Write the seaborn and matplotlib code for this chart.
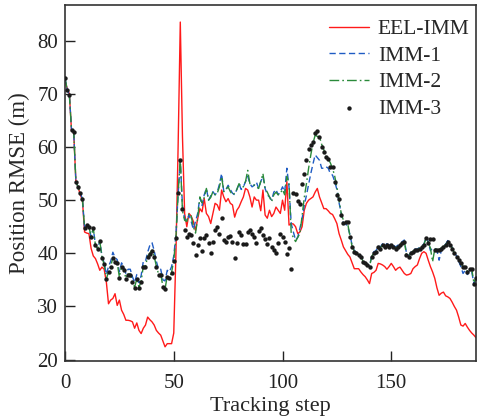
import numpy as np
import matplotlib
matplotlib.use("Agg")
import matplotlib.pyplot as plt
import seaborn as sns

# RMSE values, one per tracking step (0..189)
eel_imm = [
    72.5, 71.0, 70.0, 63.0, 62.8, 53.5, 52.5, 51.0, 50.0, 44.0,
    43.8, 43.7, 40.9, 39.5, 39.0, 38.0, 36.8, 37.4, 37.0, 34.6,
    30.5, 31.2, 31.5, 32.4, 30.2, 31.2, 29.3, 28.5, 27.4, 27.4,
    27.3, 27.1, 25.9, 26.9, 25.5, 24.9, 25.9, 26.5, 28.0, 27.5,
    27.1, 26.5, 25.5, 25.0, 24.6, 23.5, 22.4, 23.0, 23.0, 23.0,
    25.0, 40.0, 60.0, 83.5, 62.0, 47.5, 45.0, 47.5, 47.0, 46.0,
    44.3, 46.5, 48.4, 47.8, 50.3, 47.5, 46.9, 45.6, 47.5, 49.4,
    49.1, 48.1, 51.9, 50.6, 49.7, 50.3, 49.4, 49.1, 46.8, 48.1,
    48.7, 49.7, 50.6, 52.2, 51.9, 50.6, 48.7, 50.6, 50.0, 50.0,
    48.0, 51.9, 47.2, 46.6, 48.1, 46.9, 47.5, 48.7, 48.1, 47.5,
    50.0, 48.1, 53.5, 45.3, 45.6, 45.5, 45.0, 43.7, 44.0, 45.0,
    48.1, 49.4, 50.0, 50.3, 50.6, 51.5, 52.2, 50.6, 49.5, 48.4,
    48.4, 48.0, 47.5, 47.3, 46.5, 45.6, 43.7, 42.5, 41.2, 40.5,
    39.8, 39.3, 38.2, 37.1, 37.1, 37.1, 36.5, 36.0, 35.6, 35.0,
    34.3, 36.2, 36.4, 36.8, 38.1, 38.0, 37.8, 37.5, 37.0, 37.5,
    38.1, 37.5, 36.8, 37.2, 37.4, 36.8, 36.2, 35.9, 36.0, 36.2,
    37.1, 37.5, 37.8, 39.0, 40.0, 40.3, 40.0, 38.7, 37.5, 36.5,
    35.3, 33.5, 32.1, 32.5, 32.7, 32.0, 31.8, 31.5, 30.8, 30.0,
    29.3, 28.0, 26.5, 26.3, 26.8, 26.1, 25.5, 25.0, 24.6, 24.1,
]

imm_1 = [
    73.0, 70.8, 69.8, 63.2, 62.9, 53.5, 52.5, 51.3, 50.3, 44.7,
    45.3, 45.0, 43.1, 44.7, 41.5, 40.9, 42.3, 39.5, 38.2, 36.0,
    37.5, 38.5, 40.2, 39.2, 38.8, 36.5, 38.2, 37.5, 36.2, 37.0,
    37.0, 35.6, 34.5, 36.0, 34.5, 35.8, 38.5, 38.5, 40.2, 41.5,
    42.0, 40.5, 38.5, 37.0, 37.0, 35.0, 34.8, 36.8, 36.5, 37.5,
    39.5, 43.5, 51.0, 57.5, 49.0, 46.5, 46.2, 47.2, 46.0, 44.5,
    46.0, 47.5, 50.5, 49.0, 51.0, 52.2, 50.0, 50.8, 51.6, 51.0,
    51.5, 53.0, 55.0, 51.6, 52.0, 52.8, 52.0, 51.3, 51.0, 52.0,
    53.1, 52.0, 52.5, 53.5, 54.5, 53.1, 52.5, 52.8, 53.4, 52.2,
    53.5, 54.5, 52.2, 51.0, 50.6, 50.0, 51.5, 52.0, 51.0, 51.6,
    52.5, 51.5, 56.0, 52.5, 45.6, 44.0, 42.5, 43.0, 44.7, 46.5,
    49.0, 50.9, 53.0, 55.0, 56.8, 58.5, 58.0, 57.5, 56.0, 56.0,
    56.3, 56.0, 55.0, 54.7, 53.5, 52.0, 49.5, 47.5, 45.6, 45.5,
    45.0, 43.5, 41.5, 40.5, 40.2, 39.8, 39.5, 38.8, 38.3, 38.0,
    37.6, 39.5, 40.3, 40.5, 41.4, 41.2, 41.8, 41.5, 41.8, 41.5,
    41.8, 41.5, 41.2, 41.5, 41.8, 42.2, 42.5, 40.0, 39.5, 40.2,
    40.5, 40.8, 40.8, 41.1, 41.4, 41.7, 43.0, 42.2, 40.5, 41.0,
    40.9, 40.5, 38.7, 40.5, 41.4, 41.7, 42.4, 41.7, 41.1, 40.2,
    39.5, 38.5, 37.5, 36.2, 36.8, 36.0, 36.8, 36.5, 34.3, 35.0,
]

imm_2 = [
    73.0, 70.8, 69.8, 63.2, 62.9, 53.5, 52.5, 51.3, 50.3, 44.7,
    45.3, 45.0, 43.1, 44.7, 41.5, 40.9, 42.3, 39.2, 37.9, 35.2,
    36.5, 37.5, 39.2, 38.5, 38.2, 35.5, 37.5, 36.9, 35.3, 36.1,
    36.1, 34.7, 33.6, 35.2, 33.6, 34.7, 37.6, 37.6, 39.4, 40.0,
    40.6, 39.4, 37.6, 36.1, 36.1, 33.8, 33.3, 35.7, 35.4, 36.4,
    38.7, 43.0, 51.3, 57.8, 48.0, 46.2, 46.0, 47.5, 47.0, 45.0,
    43.8, 46.5, 50.6, 49.5, 50.5, 52.2, 50.0, 50.5, 51.6, 51.0,
    51.3, 52.5, 54.4, 51.6, 52.0, 52.5, 51.6, 51.0, 51.3, 52.0,
    53.1, 52.5, 52.5, 53.5, 55.6, 53.1, 53.0, 52.8, 52.5, 52.2,
    53.5, 55.0, 52.2, 51.5, 50.6, 49.7, 51.0, 51.5, 51.0, 51.3,
    52.0, 51.0, 54.5, 53.1, 43.7, 43.0, 42.2, 43.0, 43.7, 47.0,
    50.5, 53.1, 56.0, 58.5, 60.7, 62.2, 62.0, 61.9, 60.5, 59.5,
    58.2, 57.8, 57.0, 56.0, 54.5, 52.5, 50.0, 47.5, 46.2, 46.0,
    45.5, 43.3, 41.3, 40.4, 40.1, 39.7, 39.4, 38.5, 38.2, 37.9,
    37.5, 39.4, 40.1, 40.4, 41.3, 41.0, 41.6, 41.3, 41.6, 41.3,
    41.6, 41.3, 41.0, 41.3, 41.6, 42.1, 42.3, 39.7, 39.4, 40.1,
    40.4, 40.7, 40.7, 41.0, 41.3, 41.6, 42.9, 42.0, 41.0, 38.4,
    40.8, 40.8, 40.7, 41.0, 41.3, 41.6, 42.3, 41.6, 41.0, 40.1,
    39.4, 38.8, 38.2, 37.5, 37.5, 36.6, 37.1, 37.1, 34.4, 35.4,
]

imm_3 = [
    73.0, 70.8, 69.8, 63.2, 62.9, 53.5, 52.5, 51.3, 50.3, 44.7,
    45.3, 45.0, 43.1, 44.7, 41.5, 40.9, 42.3, 39.2, 37.9, 35.2,
    36.4, 37.4, 39.1, 38.4, 38.1, 35.4, 37.4, 36.8, 35.2, 36.0,
    36.0, 34.6, 33.5, 35.1, 33.5, 34.6, 37.5, 37.5, 39.3, 39.8,
    40.4, 39.3, 37.5, 36.0, 36.0, 33.7, 33.2, 35.6, 35.3, 36.3,
    38.6, 42.8, 51.3, 57.5, 48.3, 44.3, 43.0, 43.7, 43.4, 42.0,
    39.6, 41.5, 42.8, 40.4, 42.8, 43.4, 41.9, 40.1, 42.2, 44.3,
    45.0, 43.7, 46.6, 42.5, 42.2, 43.0, 43.2, 42.2, 39.2, 42.0,
    44.0, 43.4, 41.7, 41.7, 44.0, 44.3, 43.7, 43.1, 42.0, 44.2,
    44.7, 43.5, 42.6, 41.7, 42.8, 41.2, 40.6, 40.1, 42.0, 43.7,
    43.0, 42.2, 39.8, 41.0, 37.0, 51.3, 51.1, 49.9, 49.3, 53.1,
    54.9, 57.5, 59.7, 60.3, 61.0, 62.7, 63.0, 61.9, 60.0, 59.1,
    58.2, 57.8, 56.3, 56.3, 53.5, 51.0, 50.2, 47.2, 45.7, 45.9,
    45.9, 43.1, 41.2, 40.3, 40.0, 39.6, 39.3, 38.4, 38.1, 37.8,
    37.4, 39.3, 40.0, 40.3, 41.2, 40.9, 41.5, 41.2, 41.5, 41.2,
    41.5, 41.2, 40.9, 41.2, 41.5, 42.0, 42.2, 39.6, 39.3, 40.0,
    40.3, 40.6, 40.6, 40.9, 41.2, 41.5, 42.8, 41.9, 42.6, 42.6,
    40.7, 40.7, 40.6, 40.9, 41.2, 41.5, 42.2, 41.5, 40.9, 40.0,
    39.3, 38.7, 38.1, 37.4, 37.4, 36.5, 37.0, 37.0, 34.3, 35.3,
]

steps = np.arange(len(eel_imm))

sns.set_style("ticks")
plt.rcParams["font.family"] = ["Liberation Serif", "DejaVu Serif"]

fig = plt.figure(figsize=(4.78, 4.2), dpi=100)
ax = fig.add_axes([0.136, 0.140, 0.860, 0.848])

sns.lineplot(x=steps, y=eel_imm, ax=ax, color="#ff1a1a", linewidth=1.0, label="EEL-IMM")
sns.lineplot(x=steps, y=imm_1, ax=ax, color="#1f5cc4", linewidth=1.0,
             linestyle=(0, (4.5, 2.5)), label="IMM-1")
sns.lineplot(x=steps, y=imm_2, ax=ax, color="#2a8a3a", linewidth=1.0,
             linestyle=(0, (7, 2.2, 1.2, 2.2)), label="IMM-2")
sns.scatterplot(x=steps, y=imm_3, ax=ax, color="#1a1a1a", s=10, linewidth=0,
                label="IMM-3", zorder=5)

ax.set_xlim(0, 189)
ax.set_ylim(19.7, 86.7)
ax.set_xticks([0, 50, 100, 150])
ax.set_yticks([20, 30, 40, 50, 60, 70, 80])

ax.set_xlabel("Tracking step", fontsize=16, labelpad=3)
ax.set_ylabel("Position RMSE (m)", fontsize=16.5, labelpad=5)
ax.tick_params(axis="both", direction="in", length=7, width=1.0,
               labelsize=15, colors="#222222")
ax.tick_params(axis="x", pad=9)
ax.tick_params(axis="y", pad=5)
for sp in ax.spines.values():
    sp.set_color("#333333")
    sp.set_linewidth(1.2)

# legend sits tight in the upper right corner, no frame
leg = ax.legend(loc="upper right", bbox_to_anchor=(1.0, 0.979), frameon=False,
                fontsize=15.5, handlelength=1.85, handletextpad=0.4,
                labelspacing=0.3, borderaxespad=0, borderpad=0.3,
                markerscale=1.0)

fig.savefig("out.png", dpi=100)
